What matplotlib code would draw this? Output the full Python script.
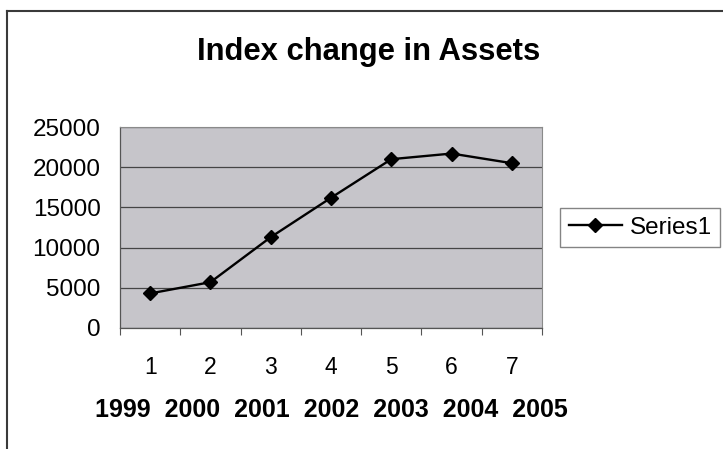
import matplotlib.pyplot as plt
from matplotlib.lines import Line2D

# Asset index, one value per period
periods = [1, 2, 3, 4, 5, 6, 7]
index_values = [4300, 5700, 11300, 16200, 21000, 21700, 20500]
years = ['1999', '2000', '2001', '2002', '2003', '2004', '2005']
y_ticks = [0, 5000, 10000, 15000, 20000, 25000]

plt.rcParams['font.family'] = ['Liberation Sans', 'DejaVu Sans']

fig = plt.figure(figsize=(7.23, 4.49), dpi=100)
ax = fig.add_axes([0.166, 0.2695, 0.5837, 0.4476])
ax.set_facecolor('#c6c5ca')

ax.plot(periods, index_values, color='black', linewidth=1.7,
        marker='D', markersize=7, label='Series1', zorder=3)

ax.set_xlim(0.5, 7.5)
ax.set_ylim(0, 25000)
ax.set_yticks(y_ticks)
ax.set_yticklabels([str(v) for v in y_ticks])
ax.set_xticks(periods)
ax.set_xticklabels([str(p) for p in periods])
# tick marks sit between categories, labels under the categories
ax.set_xticks([p + 0.5 for p in range(0, 8)], minor=True)
ax.tick_params(axis='x', which='major', length=0, pad=20, labelsize=16.5)
ax.tick_params(axis='x', which='minor', length=5, width=0.8,
               direction='out', color='#555555')
ax.tick_params(axis='y', length=0, pad=14, labelsize=17.5)

ax.grid(axis='y', color='#454545', linewidth=0.9)
ax.set_axisbelow(True)
for side in ['top', 'right']:
    ax.spines[side].set_color('#8a8a8a')
    ax.spines[side].set_linewidth(0.8)
for side in ['left', 'bottom']:
    ax.spines[side].set_color('#555555')
    ax.spines[side].set_linewidth(0.9)

ax.set_xlabel('  '.join(years), fontsize=18, fontweight='bold', labelpad=14)

fig.text(0.51, 0.885, 'Index change in Assets', ha='center', va='center',
         fontsize=22.3, fontweight='bold')

leg = ax.legend(loc='center left', bbox_to_anchor=(1.043, 0.5),
                fontsize=17.5, frameon=True, fancybox=False, borderpad=0.35,
                handlelength=2.2, handletextpad=0.3, borderaxespad=0)
leg.get_frame().set_edgecolor('#666666')
leg.get_frame().set_linewidth(1.0)

# outer chart frame (top and left edges only)
fig.add_artist(Line2D([7 / 723, 1.0], [1 - 11 / 449, 1 - 11 / 449],
                      color='#3a3a3a', linewidth=1.5))
fig.add_artist(Line2D([7 / 723, 7 / 723], [0.0, 1 - 11 / 449],
                      color='#3a3a3a', linewidth=1.5))

fig.savefig('out.png', dpi=100)
